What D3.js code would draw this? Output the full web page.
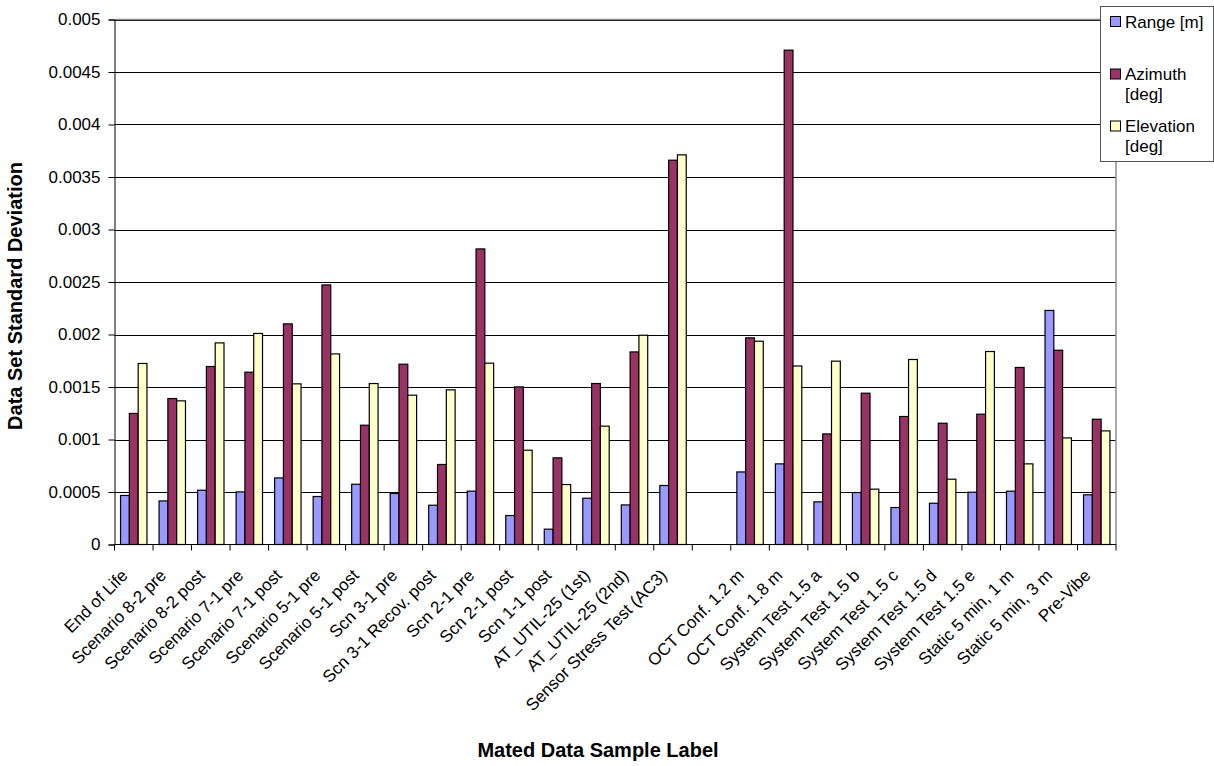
<!DOCTYPE html>
<html>
<head>
<meta charset="utf-8">
<script src="https://cdn.jsdelivr.net/npm/d3@7"></script>
<style>
  html, body { margin: 0; padding: 0; background: #fff; }
  svg { display: block; font-family: "Liberation Sans", Arial, sans-serif; }
</style>
</head>
<body>
<svg id="chart" width="1214" height="766"></svg>
<script>
const categories = ["End of Life","Scenario 8-2 pre","Scenario 8-2 post","Scenario 7-1 pre","Scenario 7-1 post","Scenario 5-1 pre","Scenario 5-1 post","Scn 3-1 pre","Scn 3-1 Recov. post","Scn 2-1 pre","Scn 2-1 post","Scn 1-1 post","AT_UTIL-25 (1st)","AT_UTIL-25 (2nd)","Sensor Stress Test (AC3)","","OCT Conf. 1.2 m","OCT Conf. 1.8 m","System Test 1.5 a","System Test 1.5 b","System Test 1.5 c","System Test 1.5 d","System Test 1.5 e","Static 5 min, 1 m","Static 5 min, 3 m","Pre-Vibe"];
const seriesNames = ["Range [m]", "Azimuth [deg]", "Elevation [deg]"];
const rangeValues = [0.000467,0.000415,0.000517,0.000501,0.000634,0.000457,0.000574,0.000486,0.000374,0.000508,0.000276,0.000146,0.000441,0.000377,0.000562,null,0.000691,0.000768,0.000406,0.000495,0.000352,0.000393,0.000498,0.000508,0.002229,0.000473];
const azimuthValues = [0.001248,0.00139,0.001695,0.001641,0.002101,0.002472,0.001136,0.001717,0.000762,0.002815,0.001501,0.000825,0.001533,0.001834,0.00366,null,0.001968,0.004708,0.001053,0.001441,0.001219,0.001155,0.001241,0.001686,0.00185,0.001193];
const elevationValues = [0.001724,0.001368,0.00192,0.00201,0.00153,0.001815,0.001533,0.001422,0.001473,0.001727,0.000898,0.000571,0.001127,0.001993,0.003711,null,0.001936,0.0017,0.001746,0.000527,0.001762,0.000622,0.001838,0.000768,0.001015,0.001082];
const yTickValues = [0,0.0005,0.001,0.0015,0.002,0.0025,0.003,0.0035,0.004,0.0045,0.005];
const yTickLabels = ["0","0.0005","0.001","0.0015","0.002","0.0025","0.003","0.0035","0.004","0.0045","0.005"];
const colors = ["#9999FF", "#993366", "#FFFFCC"];

(function () {
const allSeries = [rangeValues, azimuthValues, elevationValues];

const svg = d3.select("#chart");
const pLeft = 114.5, pRight = 1116, pTop = 19.5, pBottom = 544.5;

const x0 = d3.scaleBand().domain(d3.range(categories.length)).range([pLeft, pRight]).paddingInner(0).paddingOuter(0);
const x1 = d3.scaleBand().domain(d3.range(3)).range([0, x0.bandwidth()]).paddingInner(0).paddingOuter(0.6875);
const y = d3.scaleLinear().domain([0, 0.005]).range([pBottom, pTop]);

// gridlines
svg.append("g").selectAll("line").data(yTickValues.slice(1)).join("line")
  .attr("x1", pLeft).attr("x2", pRight)
  .attr("y1", d => Math.round(y(d)) + 0.5).attr("y2", d => Math.round(y(d)) + 0.5)
  .attr("stroke", "#000").attr("stroke-width", 1);

// plot border top/right (gray)
svg.append("line").attr("x1", pLeft).attr("x2", pRight).attr("y1", pTop).attr("y2", pTop)
  .attr("stroke", "#8c8c8c").attr("stroke-width", 1.5);
svg.append("line").attr("x1", pRight).attr("x2", pRight).attr("y1", pTop).attr("y2", pBottom)
  .attr("stroke", "#8c8c8c").attr("stroke-width", 1.5);

// bars
const groups = svg.append("g").selectAll("g").data(categories.map((c, i) => i)).join("g")
  .attr("transform", i => `translate(${x0(i)},0)`);
groups.selectAll("rect")
  .data(i => allSeries.map((s, k) => ({k, v: s[i]})).filter(d => d.v !== null))
  .join("rect")
  .attr("x", d => x1(d.k))
  .attr("width", x1.bandwidth())
  .attr("y", d => y(d.v))
  .attr("height", d => pBottom - y(d.v))
  .attr("fill", d => colors[d.k])
  .attr("stroke", "#000").attr("stroke-width", 1.2);

// y axis
const yAxis = d3.axisLeft(y).tickValues(yTickValues).tickSize(6).tickPadding(8)
  .tickFormat((d, i) => yTickLabels[i]);
const gy = svg.append("g").attr("transform", `translate(${pLeft},0)`).call(yAxis);
gy.select(".domain").attr("stroke", "#000");
gy.selectAll(".tick line").attr("stroke", "#000");
gy.selectAll("text").attr("font-size", 17).attr("fill", "#000")
  .attr("font-family", "Liberation Sans, Arial, sans-serif");

// x axis (boundary ticks)
const xTickPositions = d3.range(categories.length + 1).map(i => pLeft + i * x0.step());
svg.append("line").attr("x1", pLeft).attr("x2", pRight).attr("y1", pBottom).attr("y2", pBottom)
  .attr("stroke", "#000").attr("stroke-width", 1.2);
svg.append("g").selectAll("line").data(xTickPositions).join("line")
  .attr("x1", d => d).attr("x2", d => d).attr("y1", pBottom).attr("y2", pBottom + 6)
  .attr("stroke", "#000");

// category labels
svg.append("g").selectAll("text").data(categories.map((c, i) => ({c, i}))).join("text")
  .attr("transform", d => `translate(${x0(d.i) + x0.bandwidth() / 2 - 5},${pBottom + 32}) rotate(-45)`)
  .attr("text-anchor", "end")
  .attr("font-size", 17)
  .attr("fill", "#000")
  .text(d => d.c);

// axis titles
svg.append("text")
  .attr("transform", `translate(21.5,296) rotate(-90)`)
  .attr("text-anchor", "middle").attr("font-weight", "bold").attr("font-size", 20)
  .text("Data Set Standard Deviation");
svg.append("text")
  .attr("x", 598).attr("y", 757)
  .attr("text-anchor", "middle").attr("font-weight", "bold").attr("font-size", 20)
  .text("Mated Data Sample Label");

// legend
const lg = svg.append("g");
lg.append("rect").attr("x", 1100.5).attr("y", 6.5).attr("width", 113).attr("height", 155)
  .attr("fill", "#fff").attr("stroke", "#555").attr("stroke-width", 1);
const legendRows = [
  {k: 0, sqY: 16.5, lines: ["Range [m]"], baseY: 28},
  {k: 1, sqY: 69, lines: ["Azimuth", "[deg]"], baseY: 80},
  {k: 2, sqY: 121, lines: ["Elevation", "[deg]"], baseY: 132}
];
legendRows.forEach(r => {
  lg.append("rect").attr("x", 1110.5).attr("y", r.sqY).attr("width", 10).attr("height", 10)
    .attr("fill", colors[r.k]).attr("stroke", "#000").attr("stroke-width", 1);
  r.lines.forEach((t, j) => {
    lg.append("text").attr("x", 1125).attr("y", r.baseY + j * 20)
      .attr("font-size", 17).attr("fill", "#000").text(t);
  });
});
})();
</script>
</body>
</html>
